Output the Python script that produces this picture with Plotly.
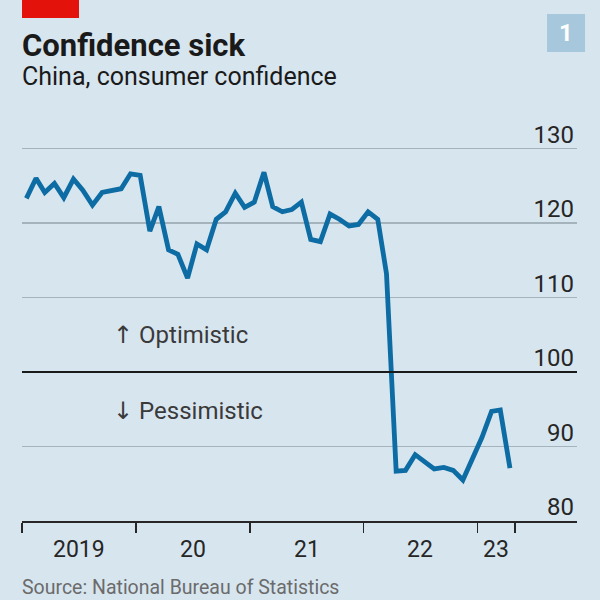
import pandas as pd
import plotly.graph_objects as go

# ---- data ----
months = pd.date_range("2019-01-01", "2023-04-01", freq="MS") + pd.Timedelta(days=14)
confidence = [
    123.3, 126.0, 124.1, 125.3, 123.4, 125.9, 124.4, 122.4, 124.1, 124.3, 124.6, 126.6,  # 2019
    126.4, 118.9, 122.2, 116.4, 115.8, 112.6, 117.2, 116.4, 120.5, 121.5, 124.0, 122.1,  # 2020
    122.8, 126.8, 122.2, 121.5, 121.8, 122.8, 117.8, 117.5, 121.2, 120.5, 119.6, 119.8,  # 2021
    121.5, 120.5, 113.2, 86.7, 86.8, 88.9, 87.9, 87.0, 87.2, 86.8, 85.5, 88.3,          # 2022
    91.2, 94.7, 94.9, 87.1,                                                              # 2023
]
year_ticks = ["2019-01-01", "2020-01-01", "2021-01-01", "2022-01-01", "2023-01-01", "2023-05-01"]
year_label_pos = ["2019-07-02", "2020-07-02", "2021-07-02", "2022-07-02", "2023-03-01"]
year_labels = ["2019", "20", "21", "22", "23"]
y_ticks = [80, 90, 100, 110, 120, 130]

BG = "#d7e5ef"
LINE = "#0c6ca3"
GRID = "#a5b3bc"
FONT = "Roboto, sans-serif"

L, R, T, B = 22, 23, 145, 79
W = 600 - L - R
H = 600 - T - B
Y_TOP = 80 + H / 7.45


def px(x):
    return (x - L) / W


def py(y):
    return (600 - B - y) / H


fig = go.Figure()
fig.add_trace(go.Scatter(
    x=months, y=confidence, mode="lines",
    line=dict(color=LINE, width=4.8), hoverinfo="skip", showlegend=False,
))

fig.update_layout(
    width=600, height=600,
    margin=dict(l=L, r=R, t=T, b=B, autoexpand=False),
    paper_bgcolor=BG, plot_bgcolor=BG,
    font=dict(family=FONT, color="#262626", size=23),
    xaxis=dict(
        type="date", range=["2019-01-01", "2023-11-16"],
        tickvals=year_ticks, ticktext=[""] * len(year_ticks),
        ticks="outside", ticklen=10, tickwidth=1.5, tickcolor="#262626",
        showline=True, linecolor="#262626", linewidth=2,
        showgrid=False, zeroline=False, fixedrange=True,
    ),
    yaxis=dict(
        range=[80, Y_TOP], tickvals=y_ticks, side="right",
        ticklabelposition="inside", ticklabelshift=-14, ticklabelstandoff=0,
        ticklabeloverflow="allow",
        tickfont=dict(size=24, color="#262626"),
        showgrid=True, gridcolor=GRID, gridwidth=1.5,
        zeroline=False, showline=False, ticks="", fixedrange=True,
    ),
)

# horizontal 100 line
fig.add_shape(type="line", xref="paper", yref="y", x0=0, x1=1, y0=100, y1=100,
              line=dict(color="#1a1a1a", width=2), layer="above")

# x year labels (between year boundary ticks)
for pos, lab in zip(year_label_pos, year_labels):
    fig.add_annotation(x=pos, xref="x", y=py(549), yref="paper", text=lab,
                       showarrow=False, xanchor="center", yanchor="middle",
                       font=dict(size=23, color="#262626"))

# Optimistic / Pessimistic
ARROW = '<span style="font-family:DejaVu Sans">{}</span> {}'
fig.add_annotation(x=px(111), xref="paper", y=py(335), yref="paper", text=ARROW.format("↑", "Optimistic"),
                   showarrow=False, xanchor="left", yanchor="middle",
                   font=dict(size=24, color="#3a3a3a"))
fig.add_annotation(x=px(111), xref="paper", y=py(411), yref="paper", text=ARROW.format("↓", "Pessimistic"),
                   showarrow=False, xanchor="left", yanchor="middle",
                   font=dict(size=24, color="#3a3a3a"))

# title, subtitle, source
fig.add_annotation(x=px(20), xref="paper", y=py(45), yref="paper", text="<b>Confidence sick</b>",
                   showarrow=False, xanchor="left", yanchor="middle",
                   font=dict(size=31, color="#1a1a1a"))
fig.add_annotation(x=px(20), xref="paper", y=py(77), yref="paper", text="China, consumer confidence",
                   showarrow=False, xanchor="left", yanchor="middle",
                   font=dict(size=25, color="#1a1a1a"))
fig.add_annotation(x=px(20), xref="paper", y=py(587), yref="paper", text="Source: National Bureau of Statistics",
                   showarrow=False, xanchor="left", yanchor="middle",
                   font=dict(size=19.5, color="#6b6b6b"))

# red tag
fig.add_shape(type="rect", xref="paper", yref="paper", x0=px(22), x1=px(79), y0=py(0), y1=py(18),
              fillcolor="#e3120b", line=dict(width=0), layer="above")
# chart number box
fig.add_shape(type="rect", xref="paper", yref="paper", x0=px(547), x1=px(585), y0=py(14), y1=py(52),
              fillcolor="#a7c8dc", line=dict(width=0), layer="above")
fig.add_annotation(x=px(566), xref="paper", y=py(33), yref="paper", text="<b>1</b>",
                   showarrow=False, xanchor="center", yanchor="middle",
                   font=dict(size=24, color="#ffffff", family="Roboto, sans-serif"))

fig.write_html("out.html", config={"displayModeBar": False, "staticPlot": True},
               post_script="document.body.style.margin='0';document.body.style.overflow='hidden';")
